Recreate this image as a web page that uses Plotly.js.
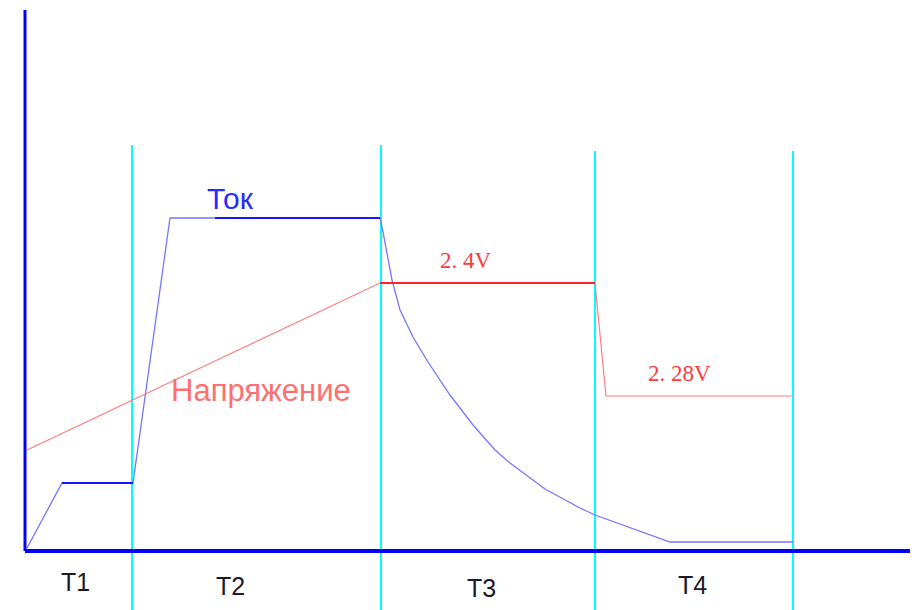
<!DOCTYPE html>
<html>
<head>
<meta charset="utf-8">
<script src="https://cdn.plot.ly/plotly-3.0.1.min.js"></script>
<style>html,body{margin:0;padding:0;background:#fff;}#chart{width:917px;height:610px;}</style>
</head>
<body>
<div id="chart"></div>
<script>
// Time axis (arbitrary units) and series values
const currentTime  = [2, 37, 108, 145, 190, 355, 358, 362, 367, 375, 388, 403, 415, 425, 448, 470, 485, 520, 555, 570, 645, 768];
const currentValue = [3, 68, 68, 333, 333, 333, 319, 299, 271, 241, 214, 189, 171, 156, 126, 101, 88, 62, 43, 36, 9, 9];
const voltageTime  = [2, 355, 570, 581, 768];
const voltageValue = [101, 268, 268, 155, 155];
const phaseBounds  = [107, 356, 570, 768];
const phaseTops    = [406, 406, 400, 400];
const phaseLabels  = ["T1", "T2", "T3", "T4"];
const seriesLabels = ["Ток", "Напряжение"];
const levelLabels  = ["2. 4V", "2. 28V"];
const axisExtent   = {x: 885, y: 541, below: -59};

const traces = [
  {x: currentTime, y: currentValue, mode: 'lines', line: {color: '#7676ff', width: 1.3}, hoverinfo: 'skip'},
  {x: currentTime.slice(1, 3), y: currentValue.slice(1, 3), mode: 'lines', line: {color: '#1414ff', width: 2}, hoverinfo: 'skip'},
  {x: currentTime.slice(4, 6), y: currentValue.slice(4, 6), mode: 'lines', line: {color: '#1414ff', width: 2}, hoverinfo: 'skip'},
  {x: voltageTime, y: voltageValue, mode: 'lines', line: {color: '#ff7c7c', width: 1.2}, hoverinfo: 'skip'},
  {x: voltageTime.slice(1, 3), y: voltageValue.slice(1, 3), mode: 'lines', line: {color: '#ff2424', width: 2}, hoverinfo: 'skip'}
];

const shapes = [];
phaseBounds.forEach((b, i) => {
  shapes.push({type: 'line', xref: 'x', yref: 'y', x0: b, x1: b, y0: axisExtent.below, y1: phaseTops[i],
               line: {color: '#00ffff', width: 2}, layer: 'below'});
});
shapes.push({type: 'line', xref: 'x', yref: 'y', x0: 0, x1: 0, y0: 0, y1: axisExtent.y, line: {color: '#0000ff', width: 3}});
shapes.push({type: 'line', xref: 'x', yref: 'y', x0: 0, x1: axisExtent.x, y0: 0, y1: 0, line: {color: '#0000ff', width: 4}});

const labelPos = [[50, -31], [205, -35], [456, -37], [667, -34]];
const annotations = phaseLabels.map((t, i) => ({
  x: labelPos[i][0], y: labelPos[i][1], text: t, showarrow: false, xanchor: 'center', yanchor: 'middle',
  font: {family: 'Liberation Sans, Arial, sans-serif', size: 25, color: '#1a1a2a'}
}));
annotations.push({x: 205, y: 353, text: seriesLabels[0], showarrow: false, xanchor: 'center', yanchor: 'middle',
  font: {family: 'Liberation Sans, Arial, sans-serif', size: 30, color: '#2a2aff'}});
annotations.push({x: 236, y: 161, text: seriesLabels[1], showarrow: false, xanchor: 'center', yanchor: 'middle',
  font: {family: 'Liberation Sans, Arial, sans-serif', size: 31, color: '#ff6f6f'}});
annotations.push({x: 441, y: 291, text: levelLabels[0], showarrow: false, xanchor: 'center', yanchor: 'middle',
  font: {family: 'Liberation Serif, serif', size: 23, color: '#ff3a3a'}});
annotations.push({x: 654, y: 178, text: levelLabels[1], showarrow: false, xanchor: 'center', yanchor: 'middle',
  font: {family: 'Liberation Serif, serif', size: 23, color: '#ff3a3a'}});

const hidden = {showgrid: false, zeroline: false, showticklabels: false, showline: false, ticks: ''};
const layout = {
  width: 917, height: 610,
  margin: {l: 22, r: 7, t: 8, b: 0},
  paper_bgcolor: '#ffffff', plot_bgcolor: '#ffffff',
  showlegend: false,
  xaxis: Object.assign({range: [-3, axisExtent.x]}, hidden),
  yaxis: Object.assign({range: [axisExtent.below, axisExtent.y + 2]}, hidden),
  shapes: shapes,
  annotations: annotations
};

Plotly.newPlot('chart', traces, layout, {displayModeBar: false, staticPlot: true});
</script>
</body>
</html>
